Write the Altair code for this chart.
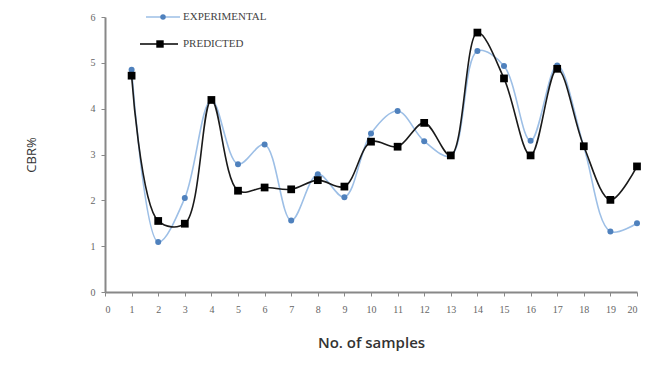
import altair as alt
import pandas as pd

samples = list(range(1, 21))
experimental = [4.85, 1.09, 2.05, 4.19, 2.79, 3.22, 1.56, 2.57, 2.07, 3.46,
                3.95, 3.29, 2.97, 5.26, 4.93, 3.30, 4.94, 3.17, 1.32, 1.50]
predicted = [4.72, 1.55, 1.49, 4.19, 2.21, 2.28, 2.24, 2.44, 2.30, 3.28,
             3.17, 3.69, 2.98, 5.66, 4.66, 2.98, 4.87, 3.18, 2.01, 2.74]

df = pd.DataFrame({"sample": samples, "EXPERIMENTAL": experimental, "PREDICTED": predicted})

W, H = 532, 275
serif = "Liberation Serif"

x = alt.X("sample:Q", scale=alt.Scale(domain=[0, 20], nice=False),
          axis=alt.Axis(values=list(range(0, 21)), title="No. of samples", grid=False,
                        labelFont=serif, labelFontSize=10, labelColor="#666",
                        titleFont="Open Sans", titleFontSize=15, titleFontWeight=600,
                        titleColor="#333", titlePadding=21, domainColor="#888", domainWidth=2,
                        tickColor="#888", tickSize=4, labelPadding=8))
yax = alt.Axis(values=list(range(0, 7)), title="CBR%", grid=False,
               labelFont=serif, labelFontSize=10, labelColor="#666",
               titleFont="Open Sans", titleFontSize=13, titleFontWeight="normal",
               titleColor="#333", titlePadding=52, domainColor="#888", domainWidth=2,
               tickColor="#888", tickSize=4, labelPadding=6)

def y(col):
    return alt.Y(f"{col}:Q", scale=alt.Scale(domain=[0, 6], nice=False), axis=yax)

base = alt.Chart(df)
exp_line = base.mark_line(color="#9dbfe6", strokeWidth=1.6, interpolate="catmull-rom").encode(x=x, y=y("EXPERIMENTAL"))
exp_pts = base.mark_point(shape="circle", filled=True, color="#4f81bd", size=36, opacity=1).encode(x=x, y=y("EXPERIMENTAL"))
pre_line = base.mark_line(color="#1a1a1a", strokeWidth=1.6, interpolate="catmull-rom").encode(x=x, y=y("PREDICTED"))
pre_pts = base.mark_point(shape="square", filled=True, color="#000", size=60, opacity=1).encode(x=x, y=y("PREDICTED"))

leg = pd.DataFrame({"d": [0]})
lb = alt.Chart(leg)
legend = [
    lb.mark_rule(color="#9dbfe6", strokeWidth=1.6).encode(x=alt.value(41), x2=alt.value(75), y=alt.value(0)),
    lb.mark_point(shape="circle", filled=True, color="#4f81bd", size=30, opacity=1).encode(x=alt.value(58), y=alt.value(0)),
    lb.mark_text(text="EXPERIMENTAL", align="left", baseline="middle", font=serif, fontSize=11, color="#444").encode(x=alt.value(78), y=alt.value(0)),
    lb.mark_rule(color="#000", strokeWidth=1.6).encode(x=alt.value(35), x2=alt.value(73), y=alt.value(27)),
    lb.mark_point(shape="square", filled=True, color="#000", size=55, opacity=1).encode(x=alt.value(55), y=alt.value(27)),
    lb.mark_text(text="PREDICTED", align="left", baseline="middle", font=serif, fontSize=11, color="#444").encode(x=alt.value(78), y=alt.value(27)),
]

chart = alt.layer(exp_line, pre_line, exp_pts, pre_pts, *legend).properties(
    width=W, height=H,
    autosize=alt.AutoSizeParams(type="none"),
    padding={"left": 97, "top": 9, "right": 4, "bottom": 64},
).configure(background="white", view=alt.ViewConfig(stroke=None))

chart.save("out.html", embed_options={"renderer": "svg", "actions": False})
